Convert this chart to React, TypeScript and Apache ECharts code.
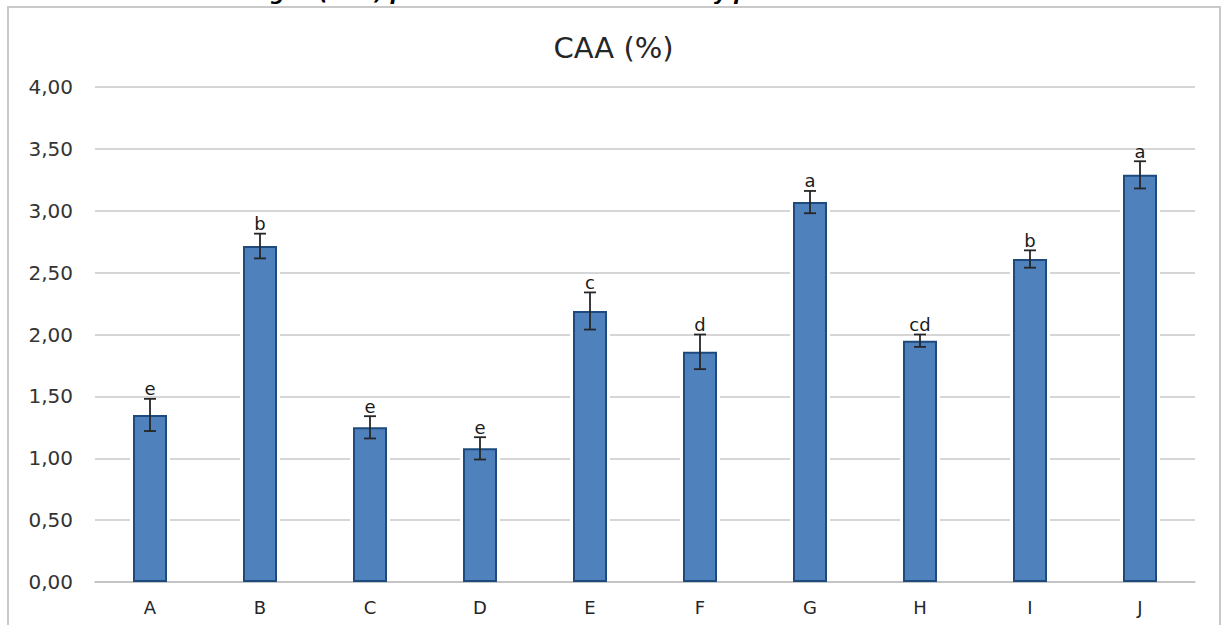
import React, { useEffect, useRef } from "react";
import * as echarts from "echarts";

const categories = ["A", "B", "C", "D", "E", "F", "G", "H", "I", "J"];
const values = [1.35, 2.715, 1.25, 1.08, 2.19, 1.86, 3.07, 1.95, 2.61, 3.29];
const errors = [0.13, 0.1, 0.09, 0.09, 0.15, 0.14, 0.09, 0.05, 0.07, 0.11];
const letters = ["e", "b", "e", "e", "c", "d", "a", "cd", "b", "a"];
const yTicks = { min: 0, max: 4, interval: 0.5 };
const chartTitle = "CAA (%)";
const clippedCaption = "agua (CAA) para las muestras de harina y proteína concentrada";

const FONT = "'DejaVu Sans', 'Open Sans', sans-serif";

export default function App() {
  const ref = useRef<HTMLDivElement>(null);
  useEffect(() => {
    if (!ref.current) return;
    const chart = echarts.init(ref.current, null, { renderer: "svg" });
    const data = categories.map((c, i) => [i, values[i], errors[i], letters[i]]);
    chart.setOption({
      animation: false,
      backgroundColor: "#ffffff",
      textStyle: { fontFamily: FONT },
      title: {
        text: chartTitle,
        left: "center",
        top: 28,
        textStyle: { fontFamily: FONT, fontSize: 29, fontWeight: "normal", color: "#262626" },
      },
      graphic: [
        {
          type: "rect",
          z: 0,
          silent: true,
          shape: { x: 8, y: 7, width: 1212, height: 640 },
          style: { fill: "none", stroke: "#c9c9c9", lineWidth: 2 },
        },
        {
          type: "text",
          silent: true,
          x: 617,
          y: 3,
          style: {
            text: clippedCaption,
            fontFamily: FONT,
            fontSize: 20,
            fontWeight: "bold",
            fontStyle: "italic",
            fill: "#000",
            textAlign: "center",
            textVerticalAlign: "bottom",
          },
        },
      ],
      grid: { left: 95, right: 32, top: 87, bottom: 43 },
      xAxis: {
        type: "category",
        data: categories,
        axisTick: { show: false },
        axisLine: { lineStyle: { color: "#bfbfbf", width: 1.5 } },
        axisLabel: { color: "#262626", fontSize: 18, margin: 16, fontFamily: FONT },
      },
      yAxis: {
        type: "value",
        min: yTicks.min,
        max: yTicks.max,
        interval: yTicks.interval,
        axisLine: { show: false },
        axisTick: { show: false },
        splitLine: { lineStyle: { color: "#c8c8c8", width: 1.5 } },
        axisLabel: {
          color: "#333333",
          fontSize: 20,
          margin: 22,
          fontFamily: FONT,
          formatter: (v: number) => v.toFixed(2).replace(".", ","),
        },
      },
      series: [
        {
          type: "custom",
          z: 1,
          silent: true,
          data,
          renderItem: (params: any, api: any) => {
            const x = api.value(0);
            const top = api.coord([x, api.value(1)]);
            const base = api.coord([x, 0]);
            return {
              type: "rect",
              shape: { x: top[0] - 20, y: top[1] - 3, width: 40, height: base[1] - top[1] + 2 },
              style: { fill: "#ffffff" },
            };
          },
        },
        {
          type: "bar",
          z: 2,
          data: values,
          barWidth: 34,
          itemStyle: { color: "#4f81bd", borderColor: "#1f4a7e", borderWidth: 2 },
        },
        {
          type: "custom",
          z: 3,
          silent: true,
          data,
          renderItem: (params: any, api: any) => {
            const x = api.value(0);
            const v = api.value(1);
            const e = api.value(2);
            const label = letters[params.dataIndex];
            const hi = api.coord([x, v + e]);
            const lo = api.coord([x, v - e]);
            const cap = 6;
            const st = { stroke: "#262626", lineWidth: 1.8 };
            return {
              type: "group",
              children: [
                { type: "line", shape: { x1: hi[0], y1: hi[1], x2: lo[0], y2: lo[1] }, style: st },
                { type: "line", shape: { x1: hi[0] - cap, y1: hi[1], x2: hi[0] + cap, y2: hi[1] }, style: st },
                { type: "line", shape: { x1: lo[0] - cap, y1: lo[1], x2: lo[0] + cap, y2: lo[1] }, style: st },
                {
                  type: "text",
                  x: hi[0],
                  y: hi[1] - 1,
                  style: {
                    text: label,
                    fontFamily: FONT,
                    fontSize: 18,
                    fill: "#1a1a1a",
                    textAlign: "center",
                    textVerticalAlign: "bottom",
                  },
                },
              ],
            };
          },
        },
      ],
    });
    return () => chart.dispose();
  }, []);
  return (
    <div
      ref={ref}
      style={{ position: "absolute", left: 0, top: 0, width: 1227, height: 625 }}
    />
  );
}
